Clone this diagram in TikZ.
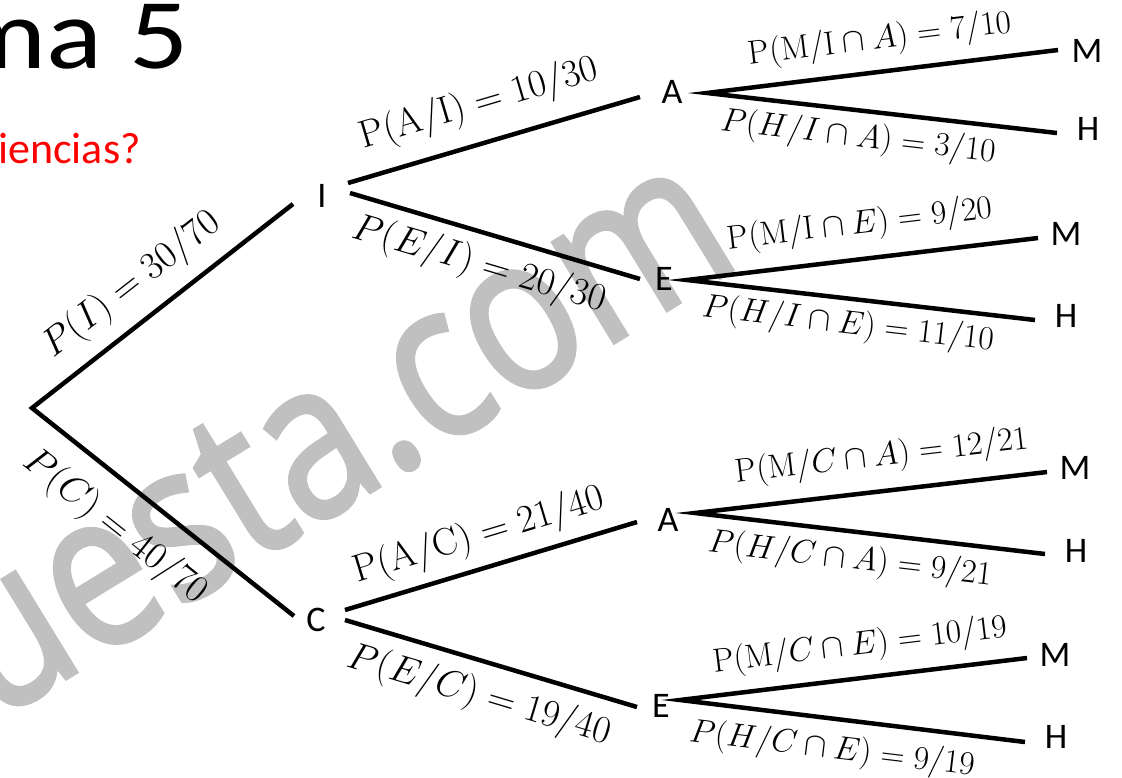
\documentclass[tikz,border=0pt]{standalone}
\usepackage{fontspec}
\newfontfamily\calib{Carlito}
\newfontfamily\wmfont[FakeBold=2]{Open Sans}
\definecolor{wmgray}{HTML}{C0C0C0}
\definecolor{slidered}{HTML}{FF0000}
\begin{document}
\begin{tikzpicture}[x=1pt,y=-1pt,
  branch/.style={line width=4.5pt},
  lett/.style={font=\calib\fontsize{36}{40}\selectfont, inner sep=0pt},
  lab/.style={font=\Huge, scale=1.34, inner sep=0pt},
  biglab/.style={font=\Huge, scale=1.55, inner sep=0pt},
  wm/.style={font=\wmfont\fontsize{182}{190}\selectfont, text=wmgray, inner sep=0pt}]
\useasboundingbox (0,0) rectangle (1122,777);
\clip (0,0) rectangle (1122,777);
\fill[white] (0,0) rectangle (1122,777);

% watermark
\node[wm, rotate=31.5, yscale=1.2] (wmark) at (333,432) {uesta.com};

% slide texts
\node[font=\calib\fontsize{100}{110}\selectfont, anchor=base west, inner sep=0pt, xscale=1.17] (title) at (-47,68) {ma 5};
\node[font=\calib\fontsize{44}{50}\selectfont, text=slidered, anchor=base west, inner sep=0pt] (question) at (-2,163) {iencias?};

% letter nodes
\node[lett] (I)  at (322,196) {I};
\node[lett] (C)  at (316,620) {C};
\node[lett] (A1) at (672,92)  {A};
\node[lett] (E1) at (664,279) {E};
\node[lett] (A2) at (668,520) {A};
\node[lett] (E2) at (661,706) {E};
\node[lett] (M1) at (1087,51)  {M};
\node[lett] (H1) at (1088,129) {H};
\node[lett] (M2) at (1066,234) {M};
\node[lett] (H2) at (1066,316) {H};
\node[lett] (M3) at (1075,468) {M};
\node[lett] (H3) at (1076,551) {H};
\node[lett] (M4) at (1055,655) {M};
\node[lett] (H4) at (1056,737) {H};

% connector ports
\coordinate (root) at (32,408);
\coordinate (I-w) at (293,204);
\coordinate (C-w) at (294,616);
\coordinate (I-e1) at (348,183);
\coordinate (I-e2) at (350,193);
\coordinate (C-e1) at (345,610);
\coordinate (C-e2) at (345,620);
\coordinate (A1-w) at (640,97);
\coordinate (E1-w) at (640,279);
\coordinate (A2-w) at (637,522);
\coordinate (E2-w) at (637,707);
\coordinate (A1-e) at (707,93);
\coordinate (E1-e) at (687,280);
\coordinate (A2-e) at (695,513);
\coordinate (E2-e) at (680,700);
\coordinate (M1-w) at (1058,50);
\coordinate (H1-w) at (1057,133);
\coordinate (M2-w) at (1038,238);
\coordinate (H2-w) at (1035,320);
\coordinate (M3-w) at (1047,472);
\coordinate (H3-w) at (1045,554);
\coordinate (M4-w) at (1027,658);
\coordinate (H4-w) at (1025,742);

% connectors
\draw[branch] (I-w) -- (root) -- (C-w);
\draw[branch] (A1-w) -- (I-e1);
\draw[branch] (I-e2) -- (E1-w);
\draw[branch] (A2-w) -- (C-e1);
\draw[branch] (C-e2) -- (E2-w);
\draw[branch] (M1-w) -- (A1-e) -- (H1-w);
\draw[branch] (M2-w) -- (E1-e) -- (H2-w);
\draw[branch] (M3-w) -- (A2-e) -- (H3-w);
\draw[branch] (M4-w) -- (E2-e) -- (H4-w);

% labels
\node[biglab, rotate=38]    (lI)  at (132,285) {$P(I) = 30/70$};
\node[biglab, rotate=-38.4] (lC)  at (115,527) {$P(C) = 40/70$};
\node[biglab, rotate=16.4]  (lAI) at (479,104) {$\mathrm{P(A/I)} = 10/30$};
\node[biglab, rotate=-16.5] (lEI) at (479,265) {$P(E/I) = 20/30$};
\node[lab, rotate=7]     (l1)  at (880,40)  {$\mathrm{P(M/I}\cap A) = 7/10$};
\node[lab, rotate=-6.5]  (l2)  at (858,138) {$P(H/I\cap A) = 3/10$};
\node[lab, rotate=6.8]   (l3)  at (860,225) {$\mathrm{P(M/I}\cap E) = 9/20$};
\node[lab, rotate=-6.6]  (l4)  at (848,325) {$P(H/I\cap E) = 11/10$};
\node[biglab, rotate=16.8]  (lAC) at (479,536) {$\mathrm{P(A/C)} = 21/40$};
\node[biglab, rotate=-16.6] (lEC) at (479,696) {$P(E/C) = 19/40$};
\node[lab, rotate=6.6]   (l5)  at (882,457) {$\mathrm{P(M/}C\cap A) = 12/21$};
\node[lab, rotate=-6.7]  (l6)  at (850,560) {$P(H/C\cap A) = 9/21$};
\node[lab, rotate=6.9]   (l7)  at (860,646) {$\mathrm{P(M/}C\cap E) = 10/19$};
\node[lab, rotate=-6.9]  (l8)  at (832,750) {$P(H/C\cap E) = 9/19$};
\end{tikzpicture}
\end{document}
